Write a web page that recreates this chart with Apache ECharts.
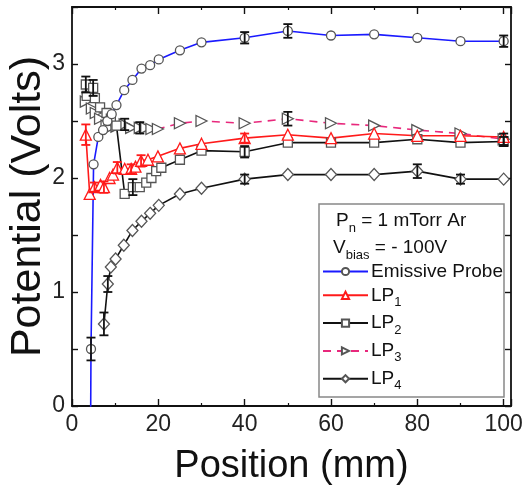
<!DOCTYPE html>
<html>
<head>
<meta charset="utf-8">
<script src="https://cdn.jsdelivr.net/npm/echarts@6/dist/echarts.min.js"></script>
<style>html,body{margin:0;padding:0;background:#fff;}#c{width:522px;height:492px;}</style>
</head>
<body>
<div id="c"></div>
<script>
// ---- data ----
var xTicks = [0, 20, 40, 60, 80, 100];
var yTicks = [0, 1, 2, 3];

var epX = [4.2, 4.4, 5.0, 6.1, 7.2, 8.2, 9.2, 10.3, 12.1, 14.0, 16.1, 18.1, 20.1, 25, 30, 40, 50, 60, 70, 80, 90, 100];
var epY = [-1.0, 0.5, 2.12, 2.36, 2.42, 2.50, 2.56, 2.64, 2.77, 2.86, 2.96, 2.99, 3.04, 3.12, 3.19, 3.23, 3.29, 3.25, 3.26, 3.23, 3.20, 3.20];
var epErr = [[4.4, 0.5, 0.1], [40, 3.23, 0.05], [50, 3.29, 0.06], [100, 3.20, 0.05]];

var lp1X = [3.2, 4.1, 5.2, 6.6, 7.4, 8.7, 9.5, 10.5, 12.2, 13.7, 14.7, 16.0, 17.6, 19.9, 25, 30, 40, 50, 60, 70, 80, 90, 100];
var lp1Y = [2.38, 1.86, 1.92, 1.94, 1.92, 2.00, 2.03, 2.09, 2.08, 2.08, 2.10, 2.15, 2.16, 2.19, 2.26, 2.30, 2.35, 2.38, 2.35, 2.39, 2.37, 2.37, 2.36];
var lp1Err = [[3.2, 2.38, 0.09], [5.2, 1.92, 0.04], [7.4, 1.92, 0.05], [10.5, 2.09, 0.05], [13.7, 2.08, 0.04], [16.0, 2.15, 0.05], [40, 2.35, 0.04]];

var lp2X = [3.2, 3.4, 4.9, 5.3, 6.5, 8.0, 9.0, 10.3, 12.2, 14.1, 15.7, 17.2, 18.4, 19.5, 20.7, 25, 30, 40, 50, 60, 70, 80, 90, 100];
var lp2Y = [2.82, 2.72, 2.79, 2.70, 2.62, 2.57, 2.52, 2.46, 1.86, 1.92, 1.92, 1.96, 2.00, 2.06, 2.09, 2.16, 2.24, 2.23, 2.31, 2.31, 2.31, 2.34, 2.31, 2.32];
var lp2Err = [[3.2, 2.82, 0.07], [4.9, 2.79, 0.07], [14.1, 1.92, 0.07], [40, 2.23, 0.05], [100, 2.32, 0.04]];

var lp3X = [3.2, 4.6, 5.5, 6.5, 8.0, 8.7, 10.3, 12.2, 13.7, 15.7, 17.2, 18.4, 19.9, 25, 30, 40, 50, 60, 70, 80, 90, 100];
var lp3Y = [2.67, 2.61, 2.57, 2.52, 2.46, 2.44, 2.45, 2.47, 2.44, 2.44, 2.44, 2.43, 2.43, 2.48, 2.50, 2.48, 2.52, 2.48, 2.46, 2.42, 2.39, 2.34];
var lp3Err = [[12.2, 2.47, 0.05], [15.7, 2.44, 0.05], [50, 2.52, 0.06], [100, 2.34, 0.05]];

var lp4X = [7.4, 8.3, 9.0, 10.1, 12.0, 14.0, 16.1, 18.1, 20.1, 25, 30, 40, 50, 60, 70, 80, 90, 100];
var lp4Y = [0.72, 1.07, 1.22, 1.29, 1.41, 1.54, 1.62, 1.69, 1.76, 1.86, 1.91, 1.99, 2.03, 2.03, 2.03, 2.06, 1.99, 1.99];
var lp4Err = [[7.4, 0.72, 0.1], [8.3, 1.07, 0.07], [40, 1.99, 0.04], [80, 2.06, 0.06], [90, 1.99, 0.04]];

function zip(xs, ys) { return xs.map(function (x, i) { return [x, ys[i]]; }); }

var FONT = 'Liberation Sans, Arial, sans-serif';
var MARK = '#555';

function errSeries(data, color) {
  return {
    type: 'custom',
    xAxisIndex: 0, yAxisIndex: 0,
    data: data,
    z: 4,
    silent: true,
    renderItem: function (params, api) {
      var x = api.value(0), y = api.value(1), e = api.value(2);
      var top = api.coord([x, y + e]);
      var bot = api.coord([x, y - e]);
      var hw = 4.5;
      var st = { stroke: color, lineWidth: 1.8 };
      return {
        type: 'group',
        children: [
          { type: 'line', shape: { x1: top[0], y1: top[1], x2: bot[0], y2: bot[1] }, style: st },
          { type: 'line', shape: { x1: top[0] - hw, y1: top[1], x2: top[0] + hw, y2: top[1] }, style: st },
          { type: 'line', shape: { x1: bot[0] - hw, y1: bot[1], x2: bot[0] + hw, y2: bot[1] }, style: st }
        ]
      };
    }
  };
}

function lineSeries(name, data, lineColor, symbol, size, markColor, extra) {
  var s = {
    name: name,
    type: 'line',
    data: data,
    symbol: symbol,
    symbolSize: size,
    showAllSymbol: true,
    z: 3,
    lineStyle: { color: lineColor, width: 1.6 },
    itemStyle: { color: '#fff', borderColor: markColor, borderWidth: 1.3 },
    emphasis: { disabled: true },
    animation: false
  };
  if (extra) { for (var k in extra) s[k] = extra[k]; }
  return s;
}

var axisCommon = {
  type: 'value',
  axisLine: { show: true, onZero: false, lineStyle: { color: '#111', width: 1.8 } },
  splitLine: { show: false }
};

var richSub = {
  m: { fontFamily: FONT, fontSize: 19, lineHeight: 26, color: '#111', fill: '#111' },
  s: { fontFamily: FONT, fontSize: 13, lineHeight: 13, padding: [14, 0, 0, 0], color: '#111', fill: '#111' }
};

var chart = echarts.init(document.getElementById('c'), null, { renderer: 'canvas' });
chart.setOption({
  animation: false,
  backgroundColor: '#fff',
  grid: { left: 72, right: 11, top: 7, bottom: 86, containLabel: false, outerBoundsMode: 'none' },
  xAxis: [
    Object.assign({}, axisCommon, {
      position: 'bottom', min: 0, max: 101.7, interval: 20,
      name: 'Position (mm)', nameLocation: 'middle', nameGap: 42, nameMoveOverlap: false,
      nameTextStyle: { fontFamily: FONT, fontSize: 38, color: '#111' },
      axisTick: { show: true, inside: true, length: 7, lineStyle: { color: '#111', width: 1.4 } },
      minorTick: { show: true, splitNumber: 2, length: 3, lineStyle: { color: '#111', width: 1.2 } },
      axisLabel: {
        fontFamily: FONT, fontSize: 23, color: '#222', margin: 7,
        formatter: function (v) { return xTicks.indexOf(Math.round(v * 1000) / 1000) >= 0 ? String(v) : ''; }
      }
    }),
    Object.assign({}, axisCommon, {
      position: 'top', min: 0, max: 101.7, interval: 20,
      axisTick: { show: true, inside: true, length: 7, lineStyle: { color: '#111', width: 1.4 } },
      minorTick: { show: true, splitNumber: 2, length: 3, lineStyle: { color: '#111', width: 1.2 } },
      axisLabel: { show: false }
    })
  ],
  yAxis: [
    Object.assign({}, axisCommon, {
      position: 'left', min: 0, max: 3.5, interval: 0.5,
      name: 'Potential (Volts)', nameLocation: 'middle', nameGap: 22, nameMoveOverlap: false,
      nameTextStyle: { fontFamily: FONT, fontSize: 43, color: '#111' },
      axisTick: { show: true, inside: true, length: 6, lineStyle: { color: '#111', width: 1.4 } },
      axisLabel: {
        fontFamily: FONT, fontSize: 23, color: '#222', margin: 7,
        formatter: function (v) { return yTicks.indexOf(Math.round(v * 1000) / 1000) >= 0 ? String(v) : ''; }
      }
    }),
    Object.assign({}, axisCommon, {
      position: 'right', min: 0, max: 3.5, interval: 0.5,
      axisTick: { show: true, inside: true, length: 6, lineStyle: { color: '#111', width: 1.4 } },
      axisLabel: { show: false }
    })
  ],
  legend: {
    orient: 'vertical',
    left: 322, top: 262,
    padding: 0,
    itemGap: 0.8,
    itemWidth: 45, itemHeight: 9,
    data: ['Emissive Probe', 'LP1', 'LP2', 'LP3', 'LP4'],
    formatter: function (n) {
      if (n.indexOf('LP') === 0) return '{m|LP}{s|' + n.slice(2) + '}';
      return '{m|' + n + '}';
    },
    textStyle: {
      fontFamily: FONT, color: '#111', padding: [0, 0, 0, -2],
      rich: richSub
    }
  },
  graphic: [
    { type: 'rect', shape: { x: 319, y: 204, width: 185, height: 193 }, style: { fill: 'rgba(0,0,0,0)', stroke: '#888', lineWidth: 1.5 }, z: 10, silent: true },
    { type: 'text', x: 336, y: 208, z: 10, silent: true,
      style: { text: '{m|P}{s|n}{m| = 1 mTorr Ar}', rich: richSub } },
    { type: 'text', x: 333, y: 235, z: 10, silent: true,
      style: { text: '{m|V}{s|bias}{m| = - 100V}', rich: richSub } }
  ],
  series: [
    lineSeries('LP4', zip(lp4X, lp4Y), '#111', 'diamond', [11, 12], MARK),
    lineSeries('LP3', zip(lp3X, lp3Y), '#e8287c', 'triangle', 11, MARK, {
      symbolRotate: -90,
      lineStyle: { color: '#e8287c', width: 1.6, type: [8, 6] }
    }),
    lineSeries('LP2', zip(lp2X, lp2Y), '#111', 'rect', 9, MARK),
    lineSeries('LP1', zip(lp1X, lp1Y), '#ff1a1a', 'triangle', 11, '#ff1a1a'),
    lineSeries('Emissive Probe', zip(epX, epY), '#1a1aff', 'circle', 9, MARK),
    errSeries(epErr, '#111'),
    errSeries(lp1Err, '#ff1a1a'),
    errSeries(lp2Err, '#111'),
    errSeries(lp3Err, '#111'),
    errSeries(lp4Err, '#111')
  ]
});
</script>
</body>
</html>
